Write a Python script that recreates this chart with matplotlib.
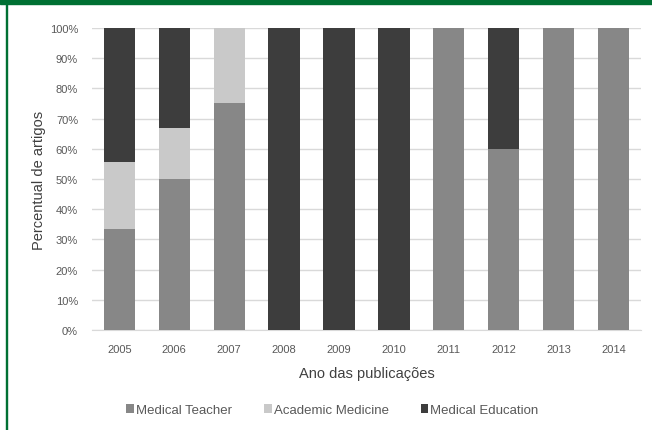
import matplotlib
matplotlib.use("Agg")
import matplotlib.pyplot as plt
import numpy as np
from matplotlib.patches import Rectangle

years = ["2005", "2006", "2007", "2008", "2009", "2010", "2011", "2012", "2013", "2014"]
medical_teacher = [33.3, 50.0, 75.0, 0, 0, 0, 100, 60, 100, 100]
academic_medicine = [22.2, 16.7, 25.0, 0, 0, 0, 0, 0, 0, 0]
medical_education = [44.5, 33.3, 0, 100, 100, 100, 0, 40, 0, 0]

plt.rcParams["font.family"] = ["Liberation Sans", "DejaVu Sans"]

fig = plt.figure(figsize=(6.52, 4.31), dpi=100)
ax = fig.add_axes([0.141, 0.232, 0.842, 0.701])

x = np.arange(len(years))
w = 0.57
mt = np.array(medical_teacher)
am = np.array(academic_medicine)
me = np.array(medical_education)
ax.bar(x, mt, w, color="#878787", label="Medical Teacher", zorder=3)
ax.bar(x, am, w, bottom=mt, color="#c9c9c9", label="Academic Medicine", zorder=3)
ax.bar(x, me, w, bottom=mt + am, color="#3d3d3d", label="Medical Education", zorder=3)

ax.set_xlim(-0.5, len(years) - 0.5)
ax.set_ylim(0, 100)
ax.set_yticks(np.arange(0, 101, 10))
ax.set_yticklabels([f"{v}%" for v in range(0, 101, 10)])
ax.set_xticks(x)
ax.set_xticklabels(years)
ax.yaxis.grid(True, color="#d9d9d9", linewidth=1, zorder=0)
for s in ["top", "right", "left"]:
    ax.spines[s].set_visible(False)
ax.spines["bottom"].set_color("#d9d9d9")
ax.tick_params(axis="both", length=0, labelsize=8, labelcolor="#595959")
ax.tick_params(axis="y", pad=10)
ax.tick_params(axis="x", pad=10)

ax.set_ylabel("Percentual de artigos", fontsize=10.5, color="#404040", labelpad=3)
ax.set_xlabel("Ano das publicações", fontsize=10.5, color="#404040", labelpad=9)

leg = fig.legend(loc="center", bbox_to_anchor=(0.51, 0.046), ncol=3, frameon=False,
                 fontsize=9.5, handlelength=0.6, handleheight=0.6, handletextpad=0.15,
                 columnspacing=2.4)
for t in leg.get_texts():
    t.set_color("#595959")

# green frame
fig.patches.append(Rectangle((0, 1 - 5 / 431), 1, 5 / 431, transform=fig.transFigure,
                             color="#007033", zorder=10))
fig.patches.append(Rectangle((6 / 652, 0), 1 / 652, 1, transform=fig.transFigure,
                             color="#007033", zorder=10))

fig.savefig("out.png", dpi=100)
